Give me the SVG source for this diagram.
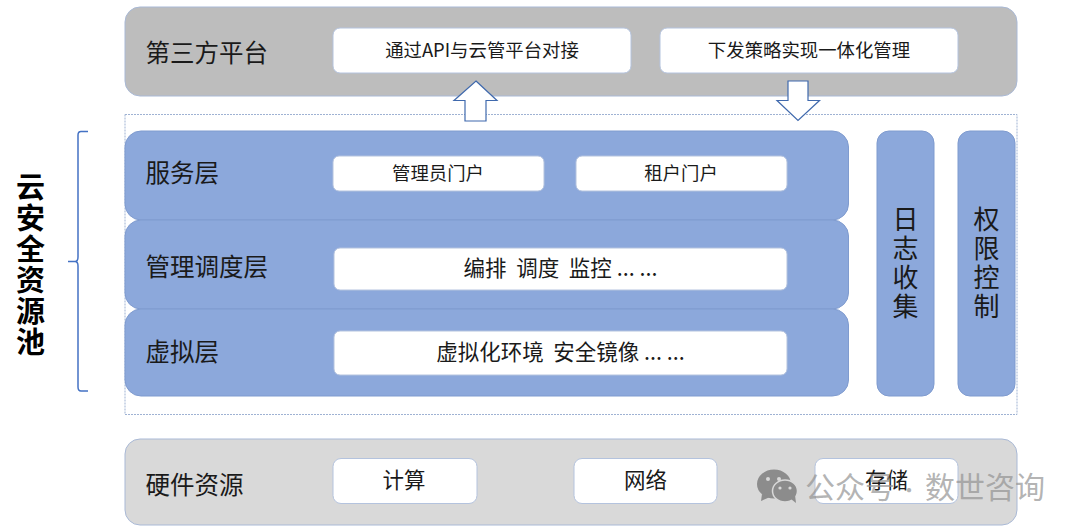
<svg xmlns="http://www.w3.org/2000/svg" width="1080" height="530" viewBox="0 0 1080 530">
<style>
text{font-family:"Noto Sans CJK SC","Noto Sans",sans-serif;fill:#1a1a1a}
.title{font-size:24.500px}
.t18{font-size:18.400px;text-anchor:middle}
.t21{font-size:21.500px;text-anchor:middle}
.col{font-size:26px;text-anchor:middle}
.side{font-size:29px;font-weight:700;text-anchor:middle;fill:#000}
.panel{stroke:#a9b9d6;stroke-width:1}
.layer{fill:#8ca8db;stroke:#7f9bcf;stroke-width:1}
.box{fill:#fff;stroke:#b4c3de;stroke-width:1}
.arrow{fill:#fff;stroke:#3f69ad;stroke-width:1.2}
.wm{font-size:30px;fill:#929292;fill-opacity:.7}
</style>
<g id="dashed-frame"><rect x="125" y="114.500" width="892" height="300" fill="#fff" stroke="#9fb2d3" stroke-width="1" stroke-dasharray="2 1"/></g>
<g id="third-party">
<rect class="panel" x="125" y="7" width="892" height="89" rx="15" fill="#bdbdbd"/>
<text class="title" x="145.500" y="62">第三方平台</text>
<rect class="box" x="333" y="28" width="298" height="45" rx="7"/>
<text class="t18" x="482" y="57">通过API与云管平台对接</text>
<rect class="box" x="660" y="28" width="298" height="45" rx="7"/>
<text class="t18" x="809" y="57">下发策略实现一体化管理</text>
</g>
<g id="service-layer">
<rect class="layer" x="125" y="131" width="723.500" height="89" rx="16"/>
<text class="title" x="145.500" y="182">服务层</text>
<rect class="box" x="333" y="156" width="211" height="35" rx="6"/>
<text class="t18" x="438" y="180">管理员门户</text>
<rect class="box" x="576" y="156" width="211" height="35" rx="6"/>
<text class="t18" x="681" y="180">租户门户</text>
</g>
<g id="manage-layer">
<rect class="layer" x="125" y="220" width="723.500" height="89" rx="16"/>
<text class="title" x="145.500" y="276">管理调度层</text>
<rect class="box" x="334" y="248" width="453" height="42" rx="6"/>
<text class="t21" x="560.500" y="276" xml:space="preserve">编排  调度  监控 ... ...</text>
</g>
<g id="virtual-layer">
<rect class="layer" x="125" y="309" width="723.500" height="87" rx="16"/>
<text class="title" x="145.500" y="361">虚拟层</text>
<rect class="box" x="334" y="331" width="453" height="44" rx="6"/>
<text class="t21" x="560.500" y="360" xml:space="preserve">虚拟化环境  安全镜像 ... ...</text>
</g>
<g id="log-column">
<rect class="layer" x="877" y="131" width="57" height="265" rx="12"/>
<text class="col" x="905.500" y="229">日</text>
<text class="col" x="905.500" y="258">志</text>
<text class="col" x="905.500" y="287">收</text>
<text class="col" x="905.500" y="316">集</text>
</g>
<g id="auth-column">
<rect class="layer" x="958" y="131" width="57" height="265" rx="12"/>
<text class="col" x="986.500" y="229">权</text>
<text class="col" x="986.500" y="258">限</text>
<text class="col" x="986.500" y="287">控</text>
<text class="col" x="986.500" y="316">制</text>
</g>
<g id="hardware">
<rect class="panel" x="125" y="439" width="892" height="86" rx="15" fill="#d9d9d9"/>
<text class="title" x="145.500" y="494">硬件资源</text>
<rect class="box" x="333" y="458.500" width="144" height="45" rx="8"/>
<text class="t21" x="404" y="488">计算</text>
<rect class="box" x="574" y="458.500" width="143" height="45" rx="8"/>
<text class="t21" x="645.500" y="488">网络</text>
<rect class="box" x="815" y="458.500" width="143" height="45" rx="8"/>
<text class="t21" x="886.500" y="488">存储</text>
</g>
<g id="resource-pool">
<text class="side" x="30.500" y="198">云</text>
<text class="side" x="30.500" y="229">安</text>
<text class="side" x="30.500" y="260">全</text>
<text class="side" x="30.500" y="291">资</text>
<text class="side" x="30.500" y="322">源</text>
<text class="side" x="30.500" y="353">池</text>
</g>
<g id="connectors" fill="none">
<path d="M88 131.500H81Q78 131.500 78 135V257Q78 261.500 75 261.500H68M75 261.500Q78 261.500 78 266V387Q78 391 81 391H88" stroke="#4472c4" stroke-width="1.500"/>
<path class="arrow" d="M476 81L497 100.500H486V121H465V100.500H454Z"/>
<path class="arrow" d="M788 81H808V100.500H819.500L798 120.500L777 100.500H788Z"/>
</g>
<g id="watermark">
<ellipse cx="774" cy="484" rx="17" ry="14.500" fill="#8c8c8c"/>
<path d="M762 494L761 501L770 497Z" fill="#8c8c8c"/>
<ellipse cx="785" cy="491" rx="12.500" ry="11" fill="#8c8c8c" stroke="#d9d9d9" stroke-width="1.500"/>
<path d="M791 499L796 503L795 495Z" fill="#8c8c8c"/>
<circle cx="768" cy="479" r="2" fill="#d9d9d9"/><circle cx="779" cy="479" r="2" fill="#d9d9d9"/>
<circle cx="780" cy="488" r="1.600" fill="#d9d9d9"/><circle cx="790" cy="488" r="1.600" fill="#d9d9d9"/>
<text class="wm" x="805" y="498">公众号</text>
<text class="wm" x="899" y="498" style="font-size:20px">·</text>
<text class="wm" x="925" y="498">数世咨询</text>
</g>
</svg>
